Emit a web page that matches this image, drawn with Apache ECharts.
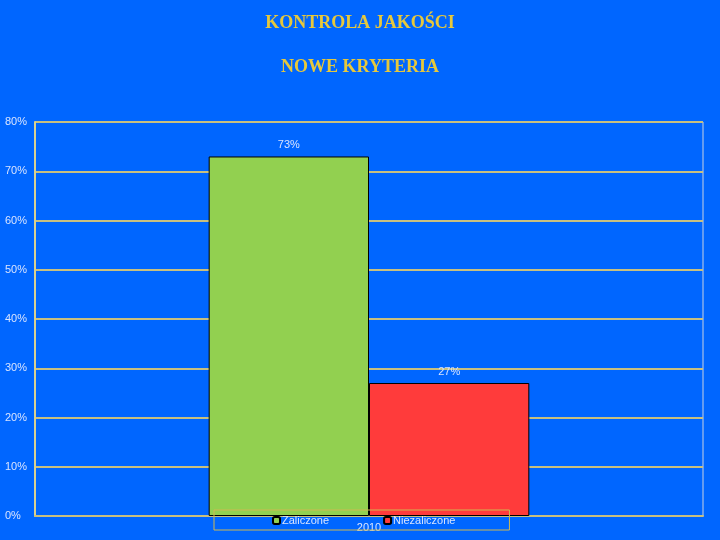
<!DOCTYPE html>
<html><head><meta charset="utf-8">
<script src="https://cdn.jsdelivr.net/npm/echarts@6/dist/echarts.min.js"></script>
<style>html,body{margin:0;padding:0;background:#0066ff}#c{width:720px;height:540px}</style>
</head><body><div id="c"></div>
<script>
const categories = ['2010'];
const seriesNames = ['Zaliczone', 'Niezaliczone'];
const zaliczone = [0.73];
const niezaliczone = [0.27];
const titleLines = ['KONTROLA JAKOŚCI', 'NOWE KRYTERIA'];

const chart = echarts.init(document.getElementById('c'));
const labelStyle = {show: true, position: 'top', distance: 6, color: '#d8e4ff', fontFamily: 'Liberation Sans', fontSize: 11,
  formatter: p => Math.round(p.value * 100) + '%'};
chart.setOption({
  backgroundColor: '#0066ff',
  animation: false,
  title: [
    {text: titleLines[0], left: 'center', top: 9, textStyle: {fontFamily: 'Liberation Serif', fontWeight: 'bold', fontSize: 18, color: '#e6c83c'}},
    {text: titleLines[1], left: 'center', top: 53, textStyle: {fontFamily: 'Liberation Serif', fontWeight: 'bold', fontSize: 18, color: '#e6c83c'}}
  ],
  grid: {left: 35, right: 17, top: 122, bottom: 24},
  legend: {
    data: seriesNames, left: 214, top: 510,
    padding: [5, 54, 4, 58], itemGap: 54, itemWidth: 7, itemHeight: 7,
    borderColor: '#d0b850', borderWidth: 1,
    textStyle: {color: '#d8e4ff', fontFamily: 'Liberation Sans', fontSize: 11, padding: [0, 0, 0, -3]}
  },
  xAxis: {
    type: 'category', data: categories,
    axisLine: {lineStyle: {color: '#c8c080', width: 2}},
    axisTick: {show: false},
    axisLabel: {color: '#d8e4ff', fontFamily: 'Liberation Sans', fontSize: 11, margin: 6}
  },
  yAxis: {
    type: 'value', min: 0, max: 0.8, interval: 0.1,
    axisLine: {show: true, lineStyle: {color: '#d8d090', width: 2}},
    axisTick: {show: false},
    splitLine: {lineStyle: {color: '#c8c080', width: 2}},
    axisLabel: {color: '#d8e4ff', fontFamily: 'Liberation Sans', fontSize: 11, align: 'left', margin: 30,
      formatter: v => Math.round(v * 100) + '%'}
  },
  series: [
    {name: seriesNames[0], type: 'bar', data: zaliczone, barGap: '0%', barCategoryGap: '52%',
     itemStyle: {color: '#92d050', borderColor: '#000', borderWidth: 1}, label: labelStyle},
    {name: seriesNames[1], type: 'bar', data: niezaliczone,
     itemStyle: {color: '#ff3b3b', borderColor: '#000', borderWidth: 1}, label: labelStyle}
  ],
  graphic: [{type: 'line', shape: {x1: 703, y1: 122, x2: 703, y2: 516}, style: {stroke: '#c8d0e0', lineWidth: 1}}]
});
</script></body></html>
